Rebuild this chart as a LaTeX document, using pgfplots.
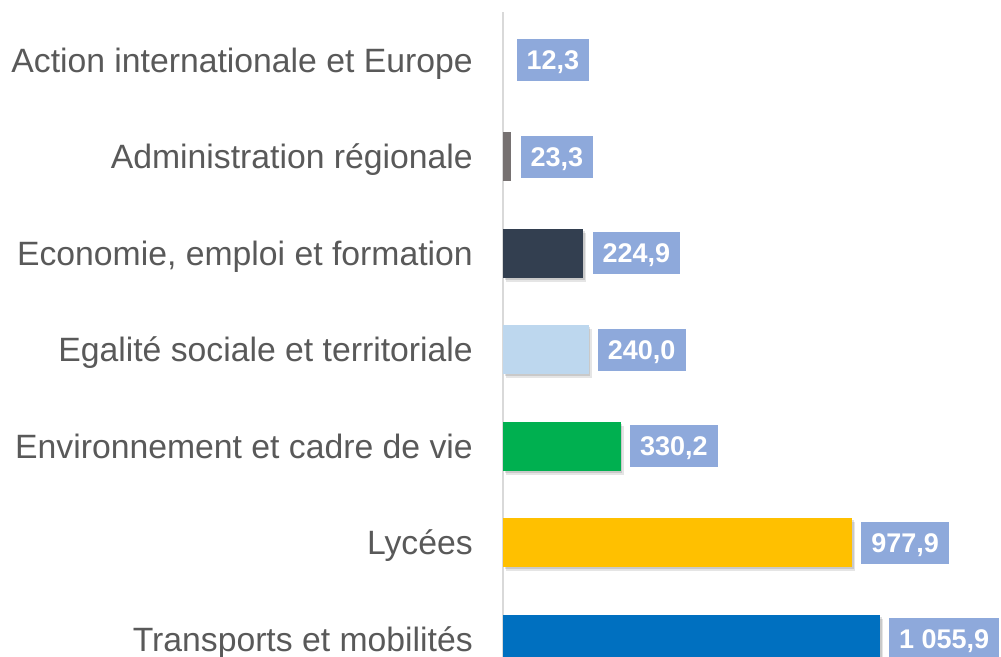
\documentclass[border=0pt]{standalone}
\usepackage{fontspec}
\setmainfont{Liberation Sans}
\usepackage{pgfplots}
\pgfplotsset{compat=1.18}
\usetikzlibrary{shadows}

\definecolor{labgray}{HTML}{595959}
\definecolor{axisgray}{HTML}{D9D9D9}
\definecolor{boxblue}{HTML}{8EA9DB}
\definecolor{admgray}{HTML}{767171}
\definecolor{ecoblue}{HTML}{333F50}
\definecolor{egalblue}{HTML}{BDD7EE}
\definecolor{envgreen}{HTML}{00B050}
\definecolor{lycyellow}{HTML}{FFC000}
\definecolor{trblue}{HTML}{0070C0}

% soft-ish shadow: two faint offset copies
\pgfplotsset{barshadow/.style={
  drop shadow={shadow xshift=1.2pt, shadow yshift=-1.5pt, opacity=0.12, fill=black},
  drop shadow={shadow xshift=2.4pt, shadow yshift=-3pt, opacity=0.10, fill=black}}}

\begin{document}
\begin{tikzpicture}
\begin{axis}[
  at={(377.25pt,-9pt)}, anchor=north west,
  scale only axis, width=373.5pt, height=506.6pt,
  xbar, bar width=36.75pt, bar shift=0pt,
  xmin=0, xmax=1395, ymin=-0.5, ymax=6.5, y dir=reverse,
  axis x line=none, axis y line*=left,
  y axis line style={draw=axisgray, line width=1.5pt},
  ytick={0,1,2,3,4,5,6},
  yticklabels={Action internationale et Europe, Administration régionale,
    {Economie, emploi et formation}, Egalité sociale et territoriale,
    Environnement et cadre de vie, Lycées, Transports et mobilités},
  major tick length=0pt,
  yticklabel style={font=\fontsize{25.3pt}{28pt}\selectfont, text=labgray,
    inner sep=0pt, text height=18.1pt, text depth=0pt, xshift=-22.5pt},
  nodes near coords, point meta=explicit symbolic,
  every node near coord/.append style={anchor=west, xshift=6.75pt,
    fill=boxblue, text=white, font=\fontsize{20.25pt}{24pt}\selectfont\bfseries,
    inner xsep=7.5pt, inner ysep=8.5pt, text height=14.5pt, text depth=0pt},
  clip=false,
]
\addplot[fill=none, draw=none] coordinates {(12.3,0) [12,3]};
\addplot[fill=admgray, draw=none] coordinates {(23.3,1) [23,3]};
\addplot[fill=ecoblue, draw=none, barshadow] coordinates {(224.9,2) [224,9]};
\addplot[fill=egalblue, draw=none, barshadow] coordinates {(240.0,3) [240,0]};
\addplot[fill=envgreen, draw=none, barshadow] coordinates {(330.2,4) [330,2]};
\addplot[fill=lycyellow, draw=none, barshadow] coordinates {(977.9,5) [977,9]};
\addplot[fill=trblue, draw=none, barshadow] coordinates {(1055.9,6) [1 055,9]};
\end{axis}
\pgfresetboundingbox
\path (0,0) rectangle (750.75pt,-492.75pt);
\end{tikzpicture}
\end{document}
